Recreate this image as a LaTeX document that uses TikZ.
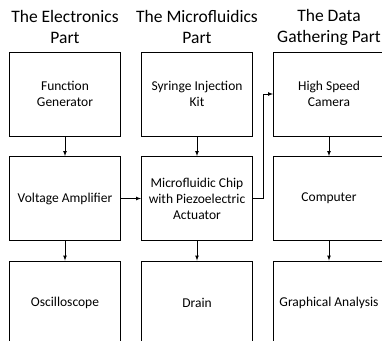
\documentclass[tikz,border=0pt]{standalone}
\usepackage{fontspec}
\setmainfont{Carlito}
\usetikzlibrary{positioning,calc}

\begin{document}
\begin{tikzpicture}[x=1pt,y=-1pt,
	box/.style={draw,line width=0.9pt,minimum width=111pt,minimum height=84pt,inner sep=0pt,align=center,font=\fontsize{13.5}{16}\selectfont},
	head/.style={align=center,font=\fontsize{17.5}{21}\selectfont},
	link/.style={-latex,line width=0.7pt}]
	\useasboundingbox (0,0) rectangle (382,340);
	\node[head] (elec) at (65,27) {The Electronics\\Part};
	\node[head] (micro) at (197,27) {The Microfluidics\\Part};
	\node[head] (data) at (329,27) {The Data\\Gathering Part};
	\node[box] (fg) at (65,94) {Function\\Generator};
	\node[box] (va) at (65,198.5) {Voltage Amplifier};
	\node[box] (osc) at (65,303) {Oscilloscope};
	\node[box] (sik) at (197,94) {Syringe Injection\\Kit};
	\node[box] (chip) at (197,198.5) {Microfluidic Chip\\with Piezoelectric\\Actuator};
	\node[box] (drain) at (197,303) {Drain};
	\node[box] (cam) at (329,94) {High Speed\\Camera};
	\node[box] (pc) at (329,198.5) {Computer};
	\node[box] (ga) at (329,303) {Graphical Analysis};
	\draw[link] (fg) -- (va);
	\draw[link] (va) -- (osc);
	\draw[link] (sik) -- (chip);
	\draw[link] (chip) -- (drain);
	\draw[link] (cam) -- (pc);
	\draw[link] (pc) -- (ga);
	\draw[link] (va) -- (chip);
	\draw[link] (chip.east) -- ++(10.5,0) |- (cam.west);
\end{tikzpicture}
\end{document}
